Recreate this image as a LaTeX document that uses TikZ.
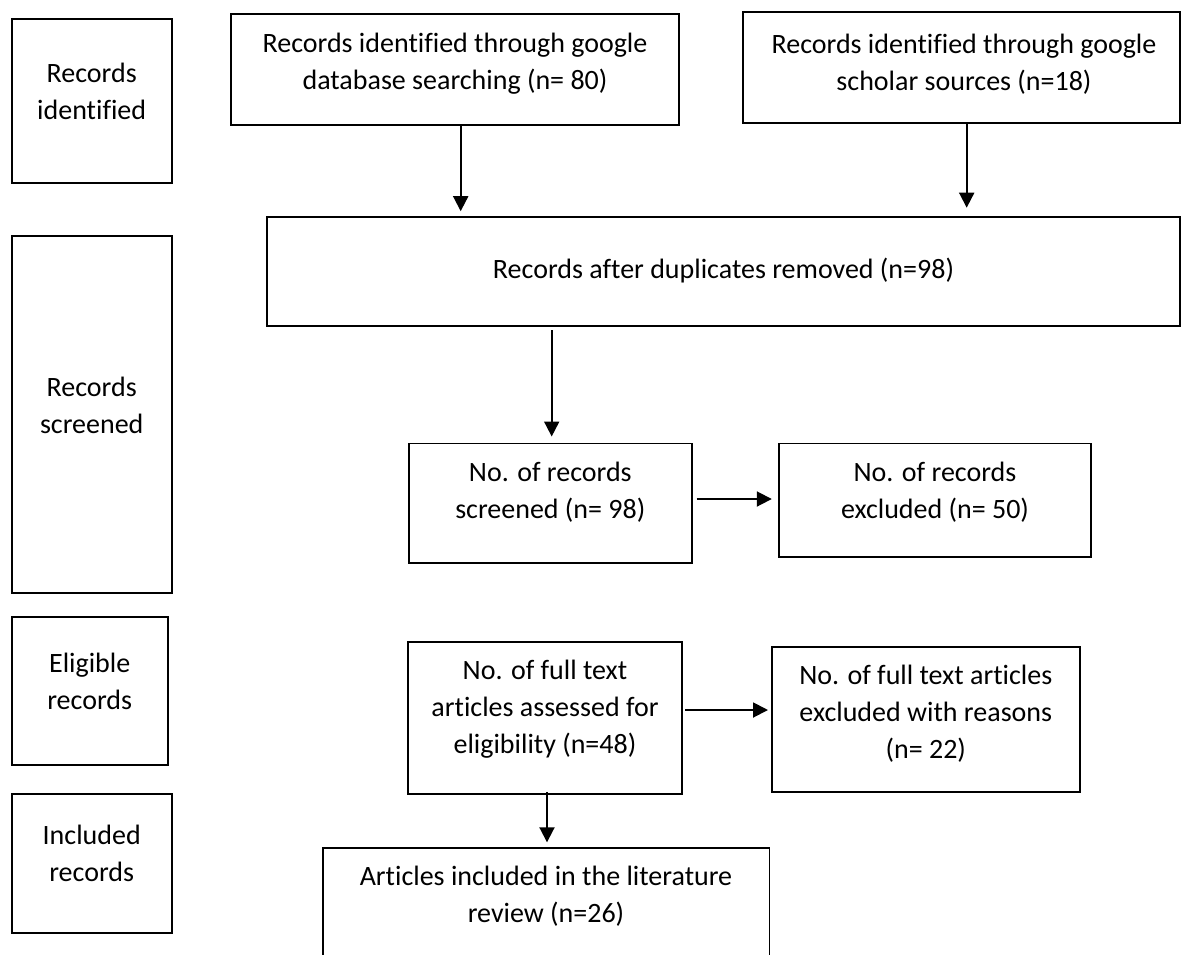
\documentclass[tikz,border=0pt]{standalone}
\usepackage{fontspec}
\setmainfont{Carlito}[Ligatures=NoCommon]
\usetikzlibrary{arrows.meta}
\newcommand\mkbox[5]{\node[box,minimum width={#4-#2},minimum height={#5-#3}] (#1) at ({(#2+#4)/2},{(#3+#5)/2}) {};}
\begin{document}
\begin{tikzpicture}[x=1pt,y=-1pt,
  box/.style={draw=black,line width=1.9pt,inner sep=0pt,outer sep=0pt,fill=none},
  txt/.style={align=center,inner sep=0pt,font=\fontsize{28}{37}\selectfont},
  arr/.style={line width=1.9pt,-{Triangle[width=15pt,length=15pt]}}]
\useasboundingbox (0,0) rectangle (1181,954);
\fill[white] (0,0) rectangle (1181,954);
\begin{scope}
\clip (0,0) rectangle (1181,954);
% left stage boxes
\mkbox{L1}{11.7}{19}{171.7}{183}
\mkbox{L2}{11.7}{236}{171.7}{593.3}
\mkbox{L3}{11.7}{616.7}{167.7}{765}
\mkbox{L4}{11.7}{794.3}{171.7}{933.3}
\node[txt] (t1) at (91.7,91) {Records\\identified};
\node[txt] (t2) at (91.7,405) {Records\\screened};
\node[txt] (t3) at (89.7,681.5) {Eligible\\records};
\node[txt] (t4) at (91.7,853) {Included\\records};
% flow boxes
\mkbox{A}{230.7}{14}{679}{125}
\mkbox{B}{743.3}{12.3}{1180}{122.7}
\mkbox{C}{267}{216.7}{1180}{326.3}
\mkbox{D}{409}{443.5}{691.7}{563.3}
\mkbox{E}{779.3}{443.5}{1091}{557}
\mkbox{F}{408.3}{642.3}{681.7}{794.3}
\mkbox{G}{771.7}{647.3}{1080}{791.7}
\mkbox{H}{322.7}{848.3}{769.5}{990}
\node[txt] (tA) at (455,63.5) {Records identified through google\\database searching (n= 80)};
\node[txt] (tB) at (964,64) {Records identified through google\\scholar sources (n=18)};
\node[txt] (tC) at (723.5,271) {Records after duplicates removed (n=98)};
\node[txt] (tD) at (550.3,492.5) {No. of records\\screened (n= 98)};
\node[txt] (tE) at (935,492) {No. of records\\excluded (n= 50)};
\node[txt] (tF) at (545,709) {No. of full text\\articles assessed for\\eligibility (n=48)};
\node[txt] (tG) at (925.8,714) {No. of full text articles\\excluded with reasons\\(n= 22)};
\node[txt] (tH) at (546,896.7) {Articles included in the literature\\review (n=26)};
% connectors
\coordinate (ax) at (460.7,0);
\coordinate (bx) at (966.7,0);
\coordinate (cx) at (551.7,0);
\coordinate (dy) at (0,499);
\coordinate (fy) at (0,710);
\coordinate (hx) at (547,0);
\draw[arr,shorten >=5.5pt] (ax |- A.south) -- (ax |- C.north);
\draw[arr,shorten >=9pt] (bx |- B.south) -- (bx |- C.north);
\draw[arr,shorten <=4pt,shorten >=7pt] (cx |- C.south) -- (cx |- D.north);
\draw[arr,shorten <=5pt,shorten >=7.5pt] (D.east |- dy) -- (E.west |- dy);
\draw[arr,shorten <=3.3pt,shorten >=3.7pt] (F.east |- fy) -- (G.west |- fy);
\draw[arr,shorten <=-2.5pt,shorten >=6pt] (hx |- F.south) -- (hx |- H.north);
\end{scope}
\end{tikzpicture}
\end{document}
